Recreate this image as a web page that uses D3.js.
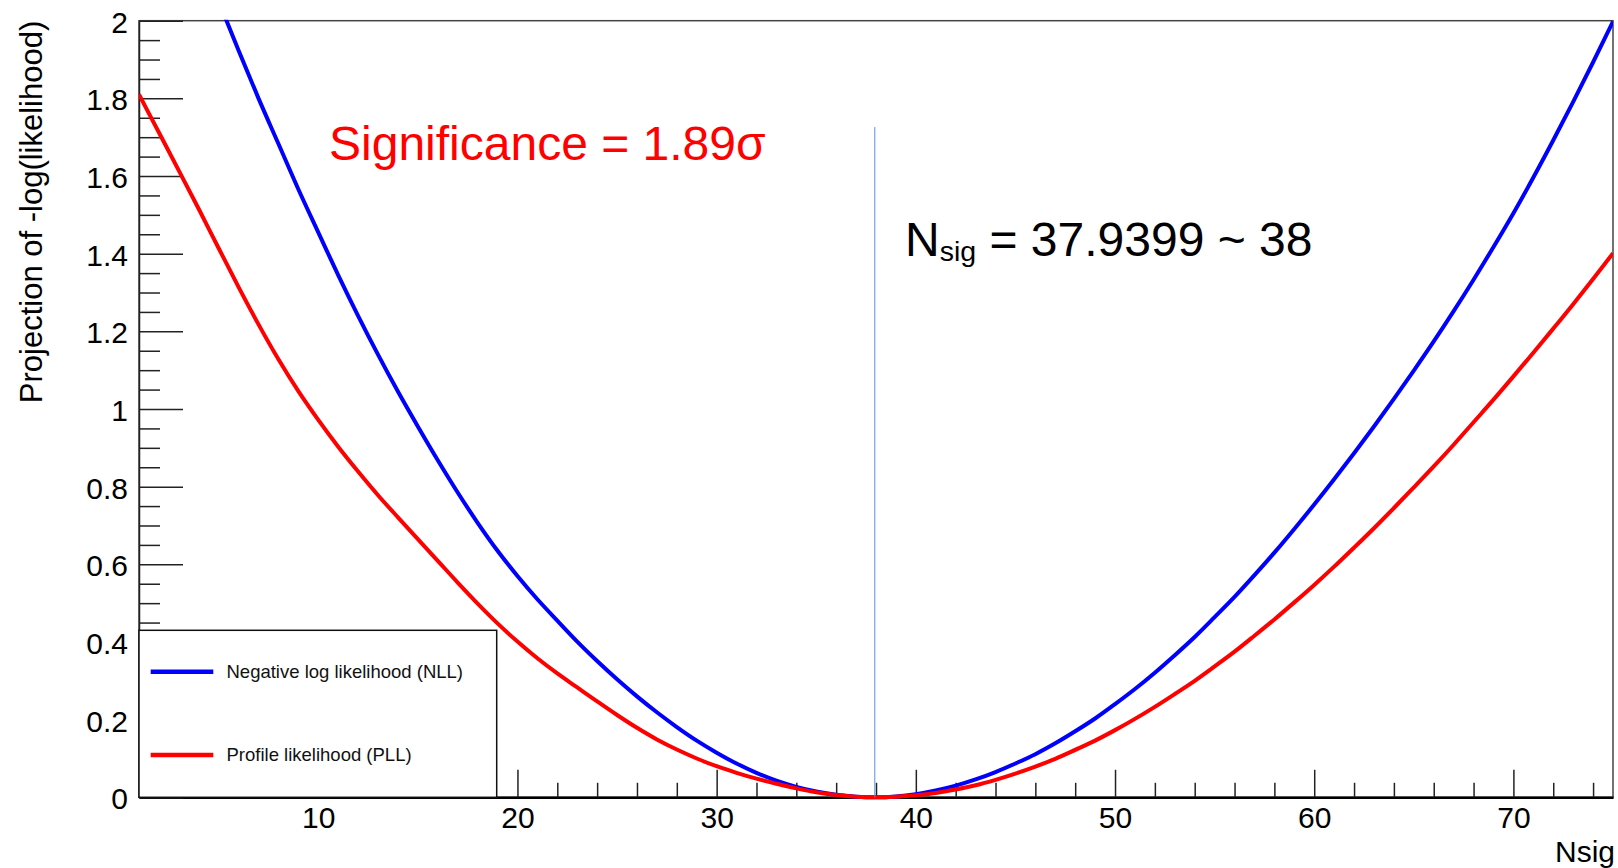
<!DOCTYPE html>
<html>
<head>
<meta charset="utf-8">
<script src="https://cdn.jsdelivr.net/npm/d3@7"></script>
<style>
  html, body { margin: 0; padding: 0; background: #fff; }
  svg { display: block; font-family: "Liberation Sans", Arial, Helvetica, sans-serif; }
</style>
</head>
<body>
<svg id="chart" width="1618" height="868"></svg>
<script>
// Negative log likelihood scan: Nsig values and -log(L) above the minimum
const nllN = [5, 6, 7, 8, 9, 10, 11, 12, 13, 14, 15, 16, 17, 18, 19, 20, 21, 22, 23, 24, 25, 26, 27, 28, 29, 30, 31, 32, 33, 34, 35, 36, 37, 38,
              39, 40, 41, 42, 43, 44, 45, 46, 47, 48, 49, 50, 51, 52, 53, 54, 55, 56, 57, 58, 59, 60, 61, 62, 63, 64, 65, 66, 67, 68, 69, 70, 71, 72, 73, 74, 75];
const nllV = [2.05, 1.923, 1.80, 1.683, 1.566, 1.455, 1.345, 1.24, 1.14, 1.045, 0.955, 0.868, 0.785, 0.707, 0.635, 0.570, 0.510, 0.455, 0.401, 0.351, 0.304, 0.260, 0.219, 0.181, 0.146, 0.115, 0.087, 0.063, 0.043, 0.027, 0.015, 0.0065, 0.0016, 0,
              0.0022, 0.008, 0.0175, 0.030, 0.046, 0.065, 0.087, 0.111, 0.139, 0.170, 0.203, 0.240, 0.279, 0.321, 0.366, 0.413, 0.464, 0.516, 0.572, 0.630, 0.691, 0.754, 0.819, 0.886, 0.955, 1.026, 1.099, 1.174, 1.252, 1.333, 1.417, 1.504, 1.596, 1.692, 1.791, 1.893, 1.998];

// Profile likelihood scan
const pllN = [1, 2, 3, 4, 5, 6, 7, 8, 9, 10, 11, 12, 13, 14, 15, 16, 17, 18, 19, 20, 21, 22, 23, 24, 25, 26, 27, 28, 29, 30, 31, 32, 33, 34, 35, 36, 37, 38,
              39, 40, 41, 42, 43, 44, 45, 46, 47, 48, 49, 50, 51, 52, 53, 54, 55, 56, 57, 58, 59, 60, 61, 62, 63, 64, 65, 66, 67, 68, 69, 70, 71, 72, 73, 74, 75];
const pllV = [1.81, 1.712, 1.614, 1.515, 1.414, 1.314, 1.218, 1.128, 1.046, 0.972, 0.903, 0.839, 0.778, 0.721, 0.665, 0.609, 0.553, 0.499, 0.448, 0.401, 0.358, 0.319, 0.283, 0.247, 0.212, 0.179, 0.149, 0.123, 0.100, 0.080, 0.063, 0.048, 0.035, 0.023, 0.013, 0.006, 0.0015, 0,
              0.0013, 0.005, 0.011, 0.020, 0.031, 0.045, 0.061, 0.079, 0.099, 0.122, 0.146, 0.173, 0.202, 0.233, 0.266, 0.300, 0.337, 0.375, 0.416, 0.458, 0.502, 0.547, 0.594, 0.643, 0.693, 0.745, 0.798, 0.852, 0.908, 0.966, 1.024, 1.084, 1.145, 1.207, 1.270, 1.335, 1.401];

// Axis ticks
const xMajor = [10, 20, 30, 40, 50, 60, 70];
const xMinor = d3.range(2, 75, 2).filter(v => v % 10 !== 0);
const yMajor = [0, 0.2, 0.4, 0.6, 0.8, 1, 1.2, 1.4, 1.6, 1.8, 2];
const yMinor = d3.range(0.05, 2, 0.05).map(v => +v.toFixed(2)).filter(v => Math.abs(v * 5 - Math.round(v * 5)) > 1e-6);

// Fitted signal yield marker
const nsigBest = [37.9399];
const markerTop = [1.726];

const legendLabels = ["Negative log likelihood (NLL)", "Profile likelihood (PLL)"];
const legendColors = ["#0000ff", "#ff0000"];

const W = 1618, H = 868;
const m = { left: 139, right: 5, top: 20.7, bottom: 70.7 };
const svg = d3.select("#chart");

const x = d3.scaleLinear().domain([1, 75]).range([m.left, W - m.right]);
const y = d3.scaleLinear().domain([0, 2]).range([H - m.bottom, m.top]);

svg.append("rect").attr("width", W).attr("height", H).attr("fill", "#fff");

svg.append("clipPath").attr("id", "plotclip")
  .append("rect")
  .attr("x", x(1)).attr("y", y(2) - 1)
  .attr("width", x(75) - x(1)).attr("height", y(0) - y(2) + 4);

// frame
svg.append("rect")
  .attr("x", x(1)).attr("y", y(2))
  .attr("width", x(75) - x(1)).attr("height", y(0) - y(2))
  .attr("fill", "none").attr("stroke", "#444").attr("stroke-width", 1.5);

const tickFont = 30;

// x axis: major and minor ticks pointing into the frame
const gx = svg.append("g").attr("transform", `translate(0,${y(0)})`)
  .call(d3.axisBottom(x).tickValues(xMajor).tickSize(-27.5).tickSizeOuter(0).tickFormat(d3.format("d")));
gx.select(".domain").attr("stroke", "#000").attr("stroke-width", 2.5);
gx.selectAll(".tick line").attr("stroke", "#222").attr("stroke-width", 1.5);
gx.selectAll(".tick text").attr("y", 31).attr("dy", null)
  .attr("font-size", tickFont).attr("fill", "#000").attr("font-family", "Liberation Sans, Arial, sans-serif");

const gxm = svg.append("g").attr("transform", `translate(0,${y(0)})`)
  .call(d3.axisBottom(x).tickValues(xMinor).tickSize(-14.5).tickSizeOuter(0).tickFormat(""));
gxm.select(".domain").remove();
gxm.selectAll(".tick line").attr("stroke", "#222").attr("stroke-width", 1.5);

// y axis
const gym = svg.append("g").attr("transform", `translate(${x(1)},0)`)
  .call(d3.axisLeft(y).tickValues(yMinor).tickSize(-21).tickSizeOuter(0).tickFormat(""));
gym.select(".domain").remove();
gym.selectAll(".tick line").attr("stroke", "#222").attr("stroke-width", 1.5);

const gy = svg.append("g").attr("transform", `translate(${x(1)},0)`)
  .call(d3.axisLeft(y).tickValues(yMajor).tickSize(-44).tickSizeOuter(0).tickFormat(d => String(+d.toFixed(1))));
gy.select(".domain").attr("stroke", "#222").attr("stroke-width", 1.5);
gy.selectAll(".tick line").attr("stroke", "#222").attr("stroke-width", 1.5);
gy.selectAll(".tick text").attr("x", -11).attr("dy", "0.38em").attr("font-size", tickFont).attr("fill", "#000")
  .attr("font-family", "Liberation Sans, Arial, sans-serif");

// axis titles
svg.append("text")
  .attr("x", W - 3).attr("y", 862)
  .attr("text-anchor", "end").attr("font-size", 30).attr("fill", "#000")
  .text("Nsig");

svg.append("text")
  .attr("transform", `translate(42,${y(2)}) rotate(-90)`)
  .attr("text-anchor", "end").attr("font-size", 31).attr("fill", "#000")
  .text("Projection of -log(likelihood)");

// curves
const line = d3.line().x(d => x(d[0])).y(d => y(d[1])).curve(d3.curveMonotoneX);
const plot = svg.append("g").attr("clip-path", "url(#plotclip)");

plot.append("path")
  .datum(d3.zip(nllN, nllV))
  .attr("d", line).attr("fill", "none")
  .attr("stroke", legendColors[0]).attr("stroke-width", 4).attr("stroke-linejoin", "round");

plot.append("path")
  .datum(d3.zip(pllN, pllV))
  .attr("d", line).attr("fill", "none")
  .attr("stroke", legendColors[1]).attr("stroke-width", 4).attr("stroke-linejoin", "round");

// best-fit marker
svg.selectAll(".marker").data(nsigBest).enter().append("line")
  .attr("class", "marker")
  .attr("x1", d => x(d)).attr("x2", d => x(d))
  .attr("y1", (d, i) => y(markerTop[i])).attr("y2", y(0))
  .attr("stroke", "#5b8fd6").attr("stroke-width", 1);

// annotations
svg.append("text")
  .attr("x", 329).attr("y", 160)
  .attr("font-size", 48).attr("fill", "#ff0000")
  .text("Significance = 1.89σ");

const nt = svg.append("text")
  .attr("x", 905).attr("y", 256)
  .attr("font-size", 48).attr("fill", "#000");
nt.append("tspan").text("N");
nt.append("tspan").attr("font-size", 28.5).attr("dy", 5).text("sig");
nt.append("tspan").attr("dy", -5).text(" = " + nsigBest[0] + " ~ " + Math.round(nsigBest[0]));

// legend
const lg = svg.append("g");
lg.append("rect")
  .attr("x", x(1)).attr("y", 630.3)
  .attr("width", 496.7 - x(1)).attr("height", y(0) - 630.3)
  .attr("fill", "#fff").attr("stroke", "#111").attr("stroke-width", 1.5);

const rows = [671.7, 755];
legendLabels.forEach((lab, i) => {
  lg.append("line")
    .attr("x1", 150.7).attr("x2", 213.3)
    .attr("y1", rows[i]).attr("y2", rows[i])
    .attr("stroke", legendColors[i]).attr("stroke-width", 4.5);
  lg.append("text")
    .attr("x", 226.5).attr("y", rows[i]).attr("dy", "0.35em")
    .attr("font-size", 18.5).attr("fill", "#111")
    .text(lab);
});
</script>
</body>
</html>
